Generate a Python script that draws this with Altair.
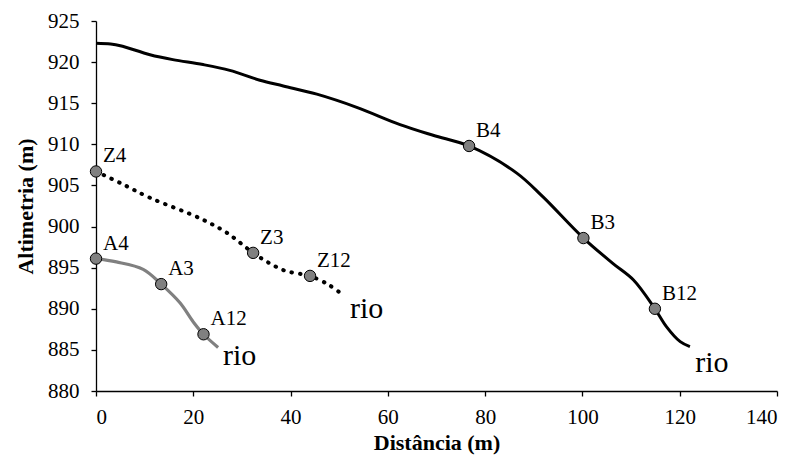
import altair as alt
import pandas as pd

# Profile B (black solid)
b_x = [0, 3, 5, 11.1, 15.8, 22, 27.5, 33.7, 38.5, 45.4, 53.6, 62.5, 69.3, 76.7, 86.5, 91.9, 100.2, 106.3, 110.5, 114.9, 117.3, 120.1, 122.1]
b_y = [922.3, 922.2, 922.0, 920.9, 920.3, 919.7, 919.0, 917.8, 917.1, 916.1, 914.5, 912.4, 911.1, 909.8, 906.5, 903.6, 898.6, 895.5, 893.5, 890.0, 887.8, 886.0, 885.4]

# Profile Z (black dotted)
z_x = [0, 5, 11.1, 21.4, 27.0, 32.3, 35.8, 39.0, 42.4, 44.0, 47.6, 50.3]
z_y = [906.7, 905.3, 903.5, 901.0, 899.2, 896.8, 895.5, 894.6, 894.2, 894.0, 893.0, 891.9]

# Profile A (gray solid)
a_x = [0, 4.2, 9.7, 13.4, 17.3, 20.0, 22.1, 25.1]
a_y = [896.1, 895.7, 894.8, 893.0, 890.7, 888.4, 886.9, 885.3]

# Sampling points
pt_label = ["A4", "A3", "A12", "Z4", "Z3", "Z12", "B4", "B3", "B12"]
pt_x = [0, 13.4, 22.1, 0, 32.3, 44.0, 76.7, 100.2, 114.9]
pt_y = [896.1, 893.0, 886.9, 906.7, 896.8, 894.0, 909.8, 898.6, 890.0]

# "rio" annotations
rio_text = ["rio", "rio", "rio"]
rio_x = [26.1, 52.2, 123.2]
rio_y = [883.2, 888.9, 882.3]

FONT = "Liberation Serif"

df_b = pd.DataFrame({"x": b_x, "y": b_y})
df_z = pd.DataFrame({"x": z_x, "y": z_y})
df_a = pd.DataFrame({"x": a_x, "y": a_y})
df_p = pd.DataFrame({"x": pt_x, "y": pt_y, "label": pt_label})
df_r = pd.DataFrame({"x": rio_x, "y": rio_y, "t": rio_text})

xs = alt.Scale(domain=[0, 140], nice=False)
ys = alt.Scale(domain=[880, 925], nice=False, zero=False)

x_enc = alt.X("x:Q", scale=xs,
              axis=alt.Axis(title="Distância (m)", values=list(range(0, 141, 20)),
                            grid=False))
y_enc = alt.Y("y:Q", scale=ys,
              axis=alt.Axis(title="Altimetria (m)", values=list(range(880, 926, 5)),
                            grid=False))

line_b = alt.Chart(df_b).mark_line(color="black", strokeWidth=3, interpolate="catmull-rom").encode(
    x=x_enc, y=y_enc)
line_a = alt.Chart(df_a).mark_line(color="#808080", strokeWidth=3.2, interpolate="catmull-rom").encode(
    x="x:Q", y="y:Q")
line_z = alt.Chart(df_z).mark_line(color="black", strokeWidth=4, strokeDash=[0.5, 8],
                                   strokeCap="round", interpolate="catmull-rom").encode(
    x="x:Q", y="y:Q")

points = alt.Chart(df_p).mark_point(shape="circle", filled=True, size=130, fill="#808080",
                                    stroke="black", strokeWidth=1, opacity=1).encode(
    x="x:Q", y="y:Q")

labels = alt.Chart(df_p).mark_text(align="left", baseline="alphabetic", dx=7, dy=-9,
                                   font=FONT, fontSize=21, color="black").encode(
    x="x:Q", y="y:Q", text="label:N")

rio = alt.Chart(df_r).mark_text(align="left", baseline="alphabetic", font=FONT,
                                fontSize=30, color="black").encode(
    x="x:Q", y="y:Q", text="t:N")

chart = alt.layer(line_b, line_a, line_z, points, labels, rio).properties(
    width=681, height=370,
    autosize=alt.AutoSizeParams(type="none"),
    padding={"left": 96, "top": 21, "right": 19, "bottom": 69},
    background="white",
).configure_view(stroke=None).configure_axis(
    domainColor="black", domainWidth=1.3, tickColor="black", tickWidth=1.3, tickSize=5,
    labelFont=FONT, labelFontSize=21, labelColor="black",
    titleFont=FONT, titleFontSize=22, titleFontWeight="bold", titleColor="black",
).configure_axisX(labelPadding=10, titlePadding=5).configure_axisY(labelPadding=12, titlePadding=10)

chart.save("out.html", embed_options={"renderer": "svg", "actions": False})
